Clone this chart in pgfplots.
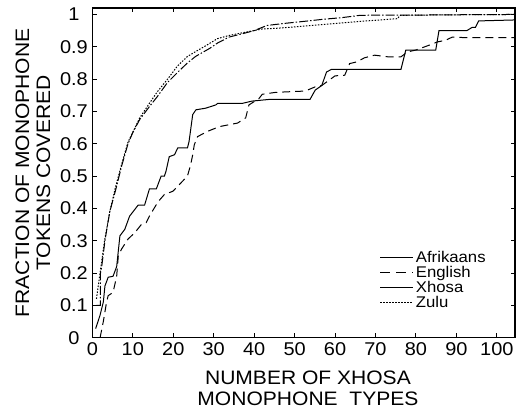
\documentclass[border=0pt]{standalone}
\usepackage{fontspec}
\setmainfont{Liberation Sans}[FakeStretch=1.08]
\usepackage{pgfplots}
\pgfplotsset{compat=1.18}

\begin{document}
\begin{tikzpicture}
\begin{axis}[
  scale only axis,
  width=423pt, height=330pt,
  xmin=0, xmax=104.5,
  ymin=0, ymax=1.02,
  xtick={0,10,20,30,40,50,60,70,80,90,100},
  ytick={0,0.1,0.2,0.3,0.4,0.5,0.6,0.7,0.8,0.9,1},
  yticklabels={0,0.1,0.2,0.3,0.4,0.5,0.6,0.7,0.8,0.9,1},
  /pgf/number format/assume math mode=true,
  tick align=inside,
  major tick length=4.5pt,
  tick style={line width=0.9pt, black},
  axis line style={line width=1.1pt},
  tick label style={font=\fontsize{18.5}{20}\selectfont},
  yticklabel style={anchor=center, xshift=-18.5pt},
  xticklabel style={yshift=-1pt},
  xlabel={NUMBER OF XHOSA\\MONOPHONE\ \ TYPES},
  ylabel={FRACTION OF MONOPHONE\\TOKENS COVERED},
  label style={font=\fontsize{19.5}{21}\selectfont, align=center, inner sep=0pt},
  xlabel style={at={(axis description cs:0.51,-0.10)}, anchor=north},
  ylabel style={at={(axis description cs:-0.099,0.5)}, anchor=south},
  legend style={at={(axis description cs:0.68,0.27)}, anchor=north west,
    draw=none, fill=none, font=\fontsize{15.5}{16}\selectfont,
    inner sep=0pt, row sep=-1.5pt},
  legend cell align=left,
  legend image code/.code={\draw[#1] (0pt,0pt) -- (33pt,0pt);},
]
% Afrikaans
\addplot[forget plot, black, line width=1pt] coordinates {
(0.8,0.028) (1.9,0.07) (2.7,0.11) (3.1,0.16) (3.9,0.187) (5.1,0.19) (6,0.22)
(6.8,0.315) (8,0.335) (9.2,0.376) (11.3,0.41) (12.9,0.41) (14.1,0.46) (15.8,0.46)
(17,0.50) (17.8,0.50) (18.2,0.515) (19,0.56) (20.3,0.566) (21.1,0.587) (23.5,0.587)
(23.9,0.607) (24.8,0.69) (25.6,0.705) (28,0.71) (30.5,0.72) (31,0.725) (37.1,0.725)
(39.5,0.732) (43.6,0.737) (53.8,0.737) (55.1,0.766) (56.7,0.78) (57.9,0.822)
(59.1,0.83) (76.3,0.83) (77.5,0.89) (84.9,0.89) (85.7,0.95) (92.6,0.95) (93.9,0.96)
(94.7,0.96) (95.5,0.98) (104.5,0.983)
};
% English
\addplot[forget plot, black, line width=1pt, dash pattern=on 8pt off 5pt] coordinates {
(1.9,0.0) (2.7,0.05) (3.5,0.11) (3.9,0.13) (5.1,0.14) (6,0.19) (6.4,0.253) (7.2,0.274)
(8.8,0.305) (10.5,0.325) (12.1,0.35) (13.3,0.356) (14.1,0.376) (16.2,0.42) (17.8,0.443)
(19.9,0.453) (21.9,0.479) (23.5,0.50) (24.3,0.535) (24.8,0.566) (25.2,0.597) (26,0.622)
(28.4,0.638) (31.4,0.653) (35.9,0.664) (37.9,0.68) (38.7,0.72) (41.2,0.74) (42,0.753)
(45.3,0.759) (52.6,0.763) (55.1,0.776) (56.7,0.78) (60,0.81) (62.4,0.812) (63.6,0.848)
(65.3,0.853) (67.3,0.866) (69.8,0.874) (73,0.869) (76.3,0.869) (77.9,0.884) (80,0.89)
(83.3,0.905) (85.3,0.915) (87.3,0.92) (89,0.93) (92.6,0.928) (104.5,0.928)
};
% Xhosa
\addplot[forget plot, black, line width=1pt, dash pattern=on 9pt off 2pt on 1.5pt off 2pt] coordinates {
(1,0.10) (2,0.10) (2,0.20) (2.3,0.22) (3.1,0.30) (4.3,0.39) (5.6,0.45) (7.2,0.53)
(8.8,0.60) (10,0.635) (11.7,0.675) (14.1,0.715) (16,0.745) (18.6,0.79) (21,0.82)
(23.5,0.85) (25.5,0.87) (27.6,0.885) (29,0.895) (31,0.912) (33.8,0.93) (37,0.94)
(40,0.95) (43.2,0.966) (48,0.973) (53.4,0.98) (57,0.985) (61.6,0.99) (66,0.997)
(70,0.998) (80,0.998) (90,0.999) (104.5,1.0)
};
% Zulu
\addplot[forget plot, black, line width=1pt, dash pattern=on 1.5pt off 1.5pt] coordinates {
(1,0.12) (2,0.21) (3,0.30) (4.3,0.39) (5.6,0.46) (7.2,0.535) (8.8,0.605) (11.7,0.68)
(14.1,0.725) (16,0.76) (18.6,0.80) (21,0.84) (23.5,0.87) (25.5,0.885) (27.6,0.90)
(30.9,0.925) (33.8,0.935) (37,0.943) (42,0.955) (45.3,0.957) (53.4,0.965) (60,0.972)
(65.7,0.978) (70,0.982) (75.5,0.987) (76,0.997) (80,0.998) (90,0.999) (104.5,1.0)
};
\addlegendimage{black, line width=1pt}
\addlegendentry{Afrikaans}
\addlegendimage{black, line width=1pt, dash pattern=on 10pt off 6pt}
\addlegendentry{English}
\addlegendimage{black, line width=1pt}
\addlegendentry{Xhosa}
\addlegendimage{black, line width=1pt, dash pattern=on 1.5pt off 1.5pt}
\addlegendentry{Zulu}
\end{axis}
\path (current axis.south west) ++(-92.5pt,-76pt) (current axis.north east) ++(7pt,8pt);
\end{tikzpicture}
\end{document}
